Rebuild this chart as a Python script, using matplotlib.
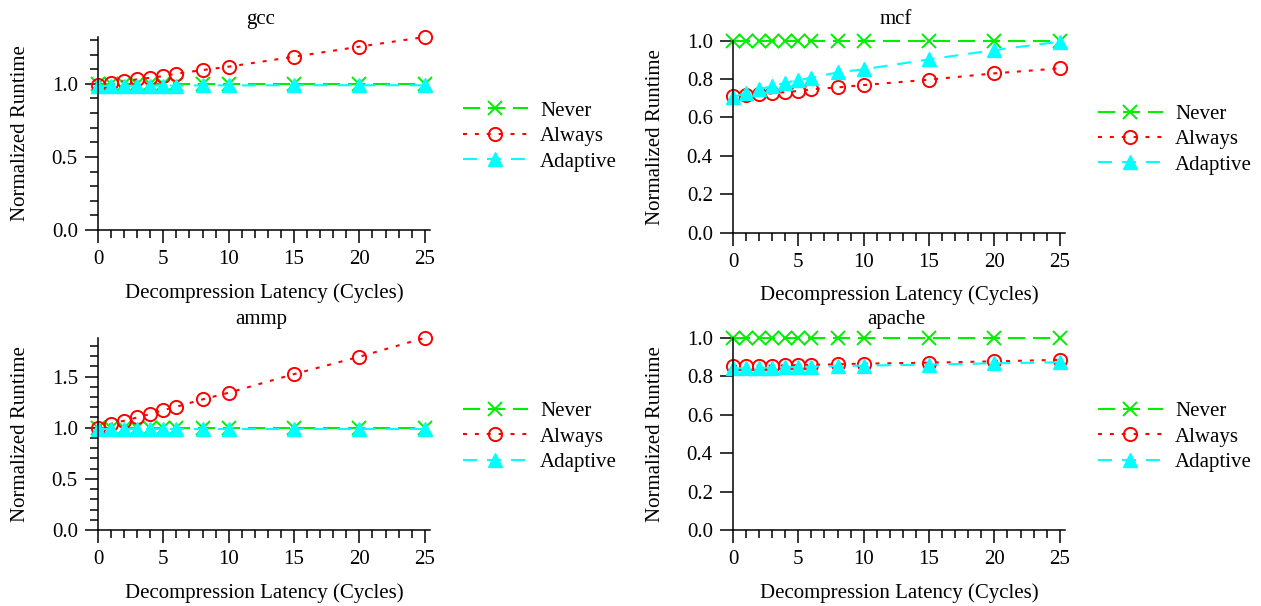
import matplotlib
matplotlib.use('Agg')
import matplotlib.pyplot as plt
from matplotlib.ticker import MultipleLocator

plt.rcParams['font.family'] = ['Liberation Serif', 'DejaVu Serif']
plt.rcParams['font.size'] = 15

latency = [0, 1, 2, 3, 4, 5, 6, 8, 10, 15, 20, 25]

gcc_never = [1.0] * 12
gcc_always = [0.995, 1.007, 1.018, 1.030, 1.041, 1.053, 1.069, 1.094, 1.117, 1.185, 1.254, 1.320]
gcc_adaptive = [0.985, 0.986, 0.986, 0.987, 0.987, 0.988, 0.988, 0.989, 0.989, 0.99, 0.99, 0.99]

mcf_never = [1.0] * 12
mcf_always = [0.712, 0.715, 0.72, 0.726, 0.732, 0.738, 0.747, 0.757, 0.769, 0.797, 0.83, 0.856]
mcf_adaptive = [0.705, 0.729, 0.747, 0.764, 0.781, 0.795, 0.807, 0.835, 0.851, 0.903, 0.951, 0.995]

ammp_never = [1.0] * 12
ammp_always = [1.0, 1.036, 1.068, 1.10, 1.134, 1.173, 1.205, 1.277, 1.342, 1.524, 1.694, 1.879]
ammp_adaptive = [0.99] * 12

apache_never = [1.0] * 12
apache_always = [0.853, 0.853, 0.854, 0.855, 0.856, 0.857, 0.858, 0.862, 0.865, 0.870, 0.877, 0.885]
apache_adaptive = [0.84, 0.842, 0.843, 0.845, 0.846, 0.848, 0.85, 0.852, 0.855, 0.86, 0.867, 0.872]

panels = [
    ('gcc', gcc_never, gcc_always, gcc_adaptive, 1.32, 0.5, 0.1),
    ('mcf', mcf_never, mcf_always, mcf_adaptive, 1.0, 0.2, None),
    ('ammp', ammp_never, ammp_always, ammp_adaptive, 1.88, 0.5, 0.1),
    ('apache', apache_never, apache_always, apache_adaptive, 1.0, 0.2, None),
]

W, H = 1261, 606
# pixel boxes: left, x-axis y, width, height
boxes = [(98, 230, 332, 193), (733, 232.7, 332, 192), (98, 530, 332, 192.3), (733, 530, 332, 192.3)]
title_base = [24, 24, 324, 324]

GREEN = '#00ee00'
RED = '#ff0000'
CYAN = '#00ffff'
LW = 1.5

fig = plt.figure(figsize=(W / 100, H / 100), dpi=100)

for (name, nev, alw, ada, ytop, ymaj, ymin), (lx, by, w, h), tb in zip(panels, boxes, title_base):
    ax = fig.add_axes([lx / W, (H - by) / H, w / W, h / H])
    ax.plot(latency, nev, color=GREEN, lw=LW, dashes=(8.2, 3.8), marker='x', ms=10, mew=1.4,
            label='Never', clip_on=False)
    ax.plot(latency, alw, color=RED, lw=LW, dashes=(1.9, 3.8), marker='o', ms=9.5, mfc='none', mew=1.4,
            label='Always', clip_on=False)
    ax.plot(latency, ada, color=CYAN, lw=LW, dashes=(6.7, 4.8), marker='^', ms=10,
            label='Adaptive', clip_on=False)
    ax.set_xlim(0, 25.4)
    ax.set_ylim(0, ytop)
    ax.xaxis.set_major_locator(MultipleLocator(5))
    ax.xaxis.set_minor_locator(MultipleLocator(1))
    ax.yaxis.set_major_locator(MultipleLocator(ymaj))
    if ymin:
        ax.yaxis.set_minor_locator(MultipleLocator(ymin))
    ax.yaxis.set_major_formatter(matplotlib.ticker.FormatStrFormatter('%.1f'))
    for s in ['top', 'right']:
        ax.spines[s].set_visible(False)
    for s in ['left', 'bottom']:
        ax.spines[s].set_linewidth(1.1)
    ax.tick_params(which='major', direction='out', length=9.5, width=1.1, pad=5)
    ax.tick_params(which='minor', direction='out', length=6, width=1.1)
    ax.set_xlabel('Decompression Latency (Cycles)', labelpad=10)
    ax.set_ylabel('Normalized Runtime', labelpad=16)
    fig.text((lx + 163) / W, (H - tb) / H, name, ha='center', va='baseline')
    ax.legend(loc='center left', bbox_to_anchor=(365 / 332, 0.485), frameon=False, borderpad=0,
              borderaxespad=0, handlelength=3.1, handletextpad=0.6, labelspacing=0.28)

fig.savefig('out.png', dpi=100)
